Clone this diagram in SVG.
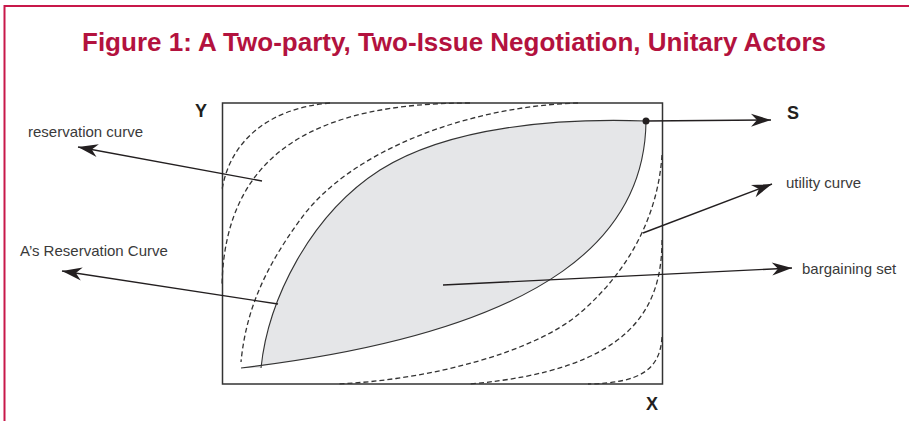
<svg xmlns="http://www.w3.org/2000/svg" width="909" height="421" viewBox="0 0 909 421">
  <defs>
    <style>
      .frame{fill:none;stroke:#c8184a;stroke-width:2}
      .title{font-family:"Liberation Sans",Arial,sans-serif;font-weight:bold;font-size:26px;fill:#b3123e}
      .lbl{font-family:"Liberation Sans",Arial,sans-serif;font-size:15px;fill:#3a3a3a}
      .axis{font-family:"Liberation Sans",Arial,sans-serif;font-weight:bold;font-size:18px;fill:#231f20}
      .box{fill:none;stroke:#333;stroke-width:1.5}
      .dash{fill:none;stroke:#333;stroke-width:1.3;stroke-dasharray:5 3}
      .solid{fill:none;stroke:#333;stroke-width:1.1}
      .conn{fill:none;stroke:#231f20;stroke-width:1.4}
    </style>
    <marker id="arr" markerUnits="userSpaceOnUse" markerWidth="24" markerHeight="16" viewBox="-21 -8 23 16" refX="0" refY="0" orient="auto">
      <path d="M0,0 L-20,-6.5 L-14,0 L-20,6.5 Z" fill="#231f20"/>
    </marker>
  </defs>

  <g id="frame">
    <path class="frame" d="M909,6 H4.5 V421"/>
  </g>

  <g id="title">
    <text class="title" x="454" y="51" text-anchor="middle">Figure 1: A Two-party, Two-Issue Negotiation, Unitary Actors</text>
  </g>

  <g id="plot-box">
    <rect class="box" x="222.5" y="103" width="440" height="281"/>
  </g>

  <g id="bargaining-set">
    <path d="M261,368 C268,300 310,215 380,170 C450,126 560,118 646,121 C645,230 560,330 241,368 Z" fill="#e5e6e8" stroke="none"/>
    <path class="solid" d="M261,368 C268,300 310,215 380,170 C450,126 560,118 646,121"/>
    <path class="solid" d="M646,121 C645,230 560,330 241,368"/>
    <circle cx="646" cy="121" r="3.5" fill="#231f20"/>
  </g>

  <g id="indifference-curves">
    <path class="dash" d="M330,103 C270,108 230,140 222,190"/>
    <path class="dash" d="M470,103 C320,103 225,150 222,285"/>
    <path class="dash" d="M578,103 C470,106 350,150 300,220 C265,268 246,310 241,362"/>
    <path class="dash" d="M662,155 C658,215 630,270 580,313 C535,352 430,380 337,384"/>
    <path class="dash" d="M662,240 C662,310 630,370 470,384"/>
    <path class="dash" d="M662,337 C660,370 640,383 588,384"/>
  </g>

  <g id="connectors">
    <line class="conn" x1="262" y1="181" x2="78" y2="147" marker-end="url(#arr)"/>
    <line class="conn" x1="278" y1="304" x2="62" y2="271" marker-end="url(#arr)"/>
    <line class="conn" x1="646" y1="121" x2="771" y2="120" marker-end="url(#arr)"/>
    <line class="conn" x1="643" y1="233" x2="772" y2="184" marker-end="url(#arr)"/>
    <line class="conn" x1="443" y1="285" x2="792" y2="268" marker-end="url(#arr)"/>
  </g>

  <g id="label-reservation-curve"><text class="lbl" x="28" y="137">reservation curve</text></g>
  <g id="label-a-reservation-curve"><text class="lbl" x="20" y="256">A’s Reservation Curve</text></g>
  <g id="label-utility-curve"><text class="lbl" x="786" y="188">utility curve</text></g>
  <g id="label-bargaining-set"><text class="lbl" x="802" y="274">bargaining set</text></g>
  <g id="label-y"><text class="axis" x="195" y="117">Y</text></g>
  <g id="label-s"><text class="axis" x="787" y="119">S</text></g>
  <g id="label-x"><text class="axis" x="646" y="410">X</text></g>
</svg>
